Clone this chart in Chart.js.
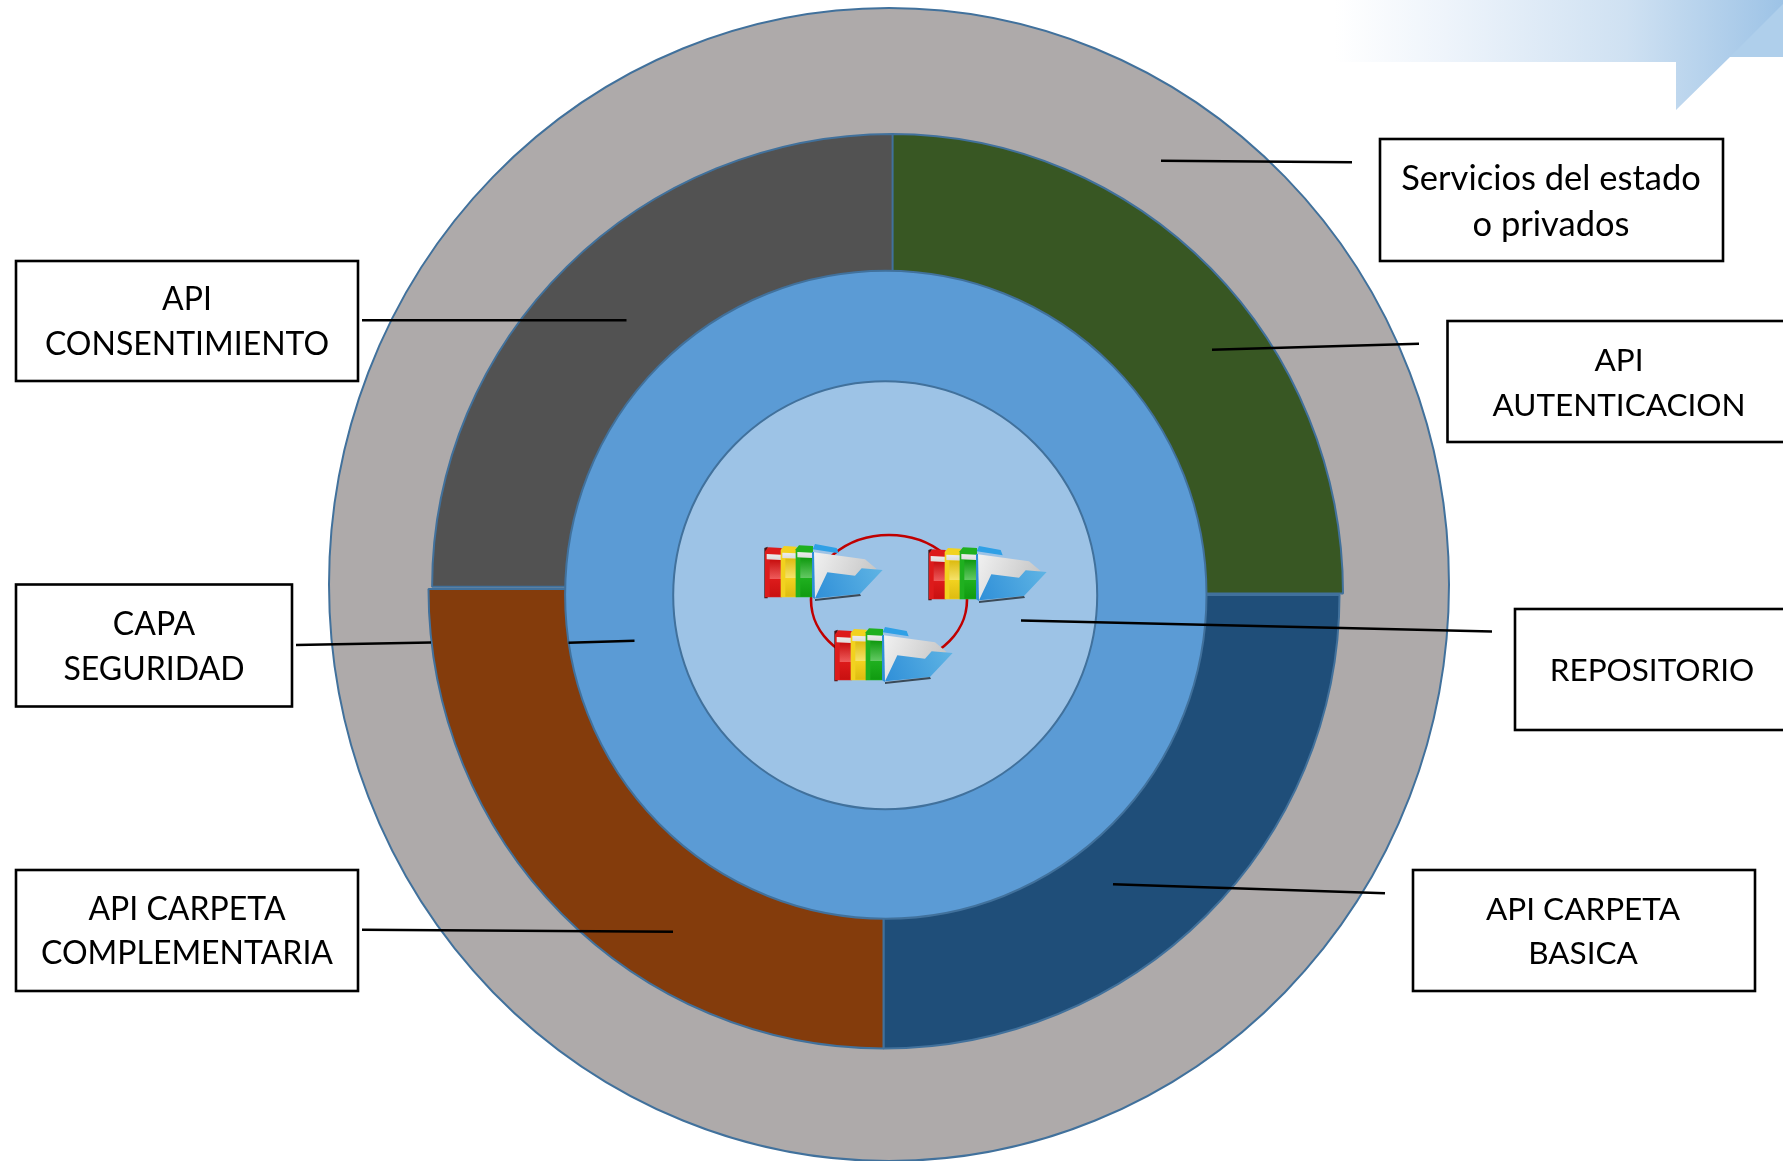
<!DOCTYPE html>
<html><head><meta charset="utf-8">
<style>html,body{margin:0;padding:0;background:#fff;overflow:hidden}canvas{display:block}</style>
<script src="https://cdn.jsdelivr.net/npm/chart.js@4/dist/chart.umd.js"></script>
</head><body>
<canvas id="c" width="1783" height="1161" style="width:1783px;height:1161px"></canvas>
<script>
// ---- data ----
const outerLabels = ["Servicios del estado o privados"];
const outerValues = [100];
const apiLabels = ["API AUTENTICACION", "API CARPETA BASICA", "API CARPETA COMPLEMENTARIA", "API CONSENTIMIENTO"];
const apiValues = [25, 25, 25, 25];
const securityLabels = ["CAPA SEGURIDAD"];
const securityValues = [100];
const repoLabels = ["REPOSITORIO"];
const repoValues = [100];
const calloutLines = [
  ["Servicios del estado", "o privados"],
  ["API", "CONSENTIMIENTO"],
  ["API", "AUTENTICACION"],
  ["CAPA", "SEGURIDAD"],
  ["REPOSITORIO"],
  ["API CARPETA", "COMPLEMENTARIA"],
  ["API CARPETA", "BASICA"]
];
// ---- style / layout ----
const edge = "#41719C";
const outerColors = ["#AEAAAA"], apiColors = ["#385723", "#1F4E79", "#843C0C", "#525252"],
      securityColors = ["#5B9BD5"], repoColors = ["#9DC3E6"];
// per-arc shape: centre, x radius, y radius, inner radius
const arcShapes = [
  [{cx:889,cy:584.5,rx:560,ry:576.5,ir:0}],
  [{cx:892,cy:593.5,rx:451,ry:459.5,ir:300},{cx:883.5,cy:595,rx:456,ry:453.5,ir:300},
   {cx:883.5,cy:589,rx:455,ry:459.5,ir:300},{cx:892.6,cy:586.7,rx:460.5,ry:452.7,ir:300}],
  [{cx:885.8,cy:594.7,rx:320.7,ry:324,ir:0}],
  [{cx:885.2,cy:595.3,rx:212,ry:214,ir:0}]
];
const boxes = [
  {x:1380,y:139,w:343,h:122,tx:1551,ty:[179,225],size:34.5},
  {x:16,y:261,w:342,h:120,tx:187,ty:[300,345],size:32},
  {x:1447.5,y:321,w:345,h:121,tx:1619,ty:[361,406],size:31.5},
  {x:16,y:584.5,w:276,h:122,tx:154,ty:[625,670],size:32},
  {x:1515,y:609,w:280,h:121,tx:1652,ty:[671],size:31.5},
  {x:16,y:870,w:342,h:121,tx:187,ty:[910,954],size:32},
  {x:1413,y:870,w:342,h:121,tx:1583,ty:[910,954],size:31.5}
];
const leaders = [
  [1161,160.7,1352,162.2],[362,320.2,626.5,320.2],[1212,349.7,1419,343.7],
  [296,645,431,642.5],[568.5,642.7,634.5,640.7],[1021,620.5,1492,631.5],
  [362,929.7,673,931.7],[1113,884.2,1385,893.2]
];
const folderSpots = [[765,544],[929,546],[835,627]];

function poly(ctx, pts, fill){
  ctx.beginPath();
  pts.forEach((p,i)=> i?ctx.lineTo(p[0],p[1]):ctx.moveTo(p[0],p[1]));
  ctx.closePath();
  if(fill){ctx.fillStyle=fill;ctx.fill();}
}
function book(ctx,x,w,h0,main,light,dark){
  // x is in icon units (1/3 px)
  poly(ctx,[[x,h0+12],[x+10,h0],[x+w,h0+2],[x+w,160],[x,160]],main);
  const b=ctx.createLinearGradient(0,h0+16,0,h0+42);
  b.addColorStop(0,"#F0F0F0");b.addColorStop(1,"#D8D8D8");
  poly(ctx,[[x+5,h0+20],[x+w-2,h0+22],[x+w-2,h0+38],[x+5,h0+36]],b);
  const g=ctx.createLinearGradient(0,h0+38,0,160);
  g.addColorStop(0,dark);g.addColorStop(.5,light);g.addColorStop(.51,main);g.addColorStop(1,dark);
  poly(ctx,[[x+14,h0+38],[x+w-2,h0+38],[x+w-2,158],[x+14,158]],g);
}
function folder(ctx,ox,oy){
  ctx.save();ctx.translate(ox,oy);ctx.scale(1/3,1/3);
  poly(ctx,[[-2,12],[8,8],[8,163],[-2,163]],"#4a1414");
  book(ctx,0,50,10,"#DD1B1B","#EE5A5A","#C81010");
  book(ctx,47,48,6,"#F2D21F","#F6E26A","#DDBB10");
  book(ctx,92,52,4,"#1FB01F","#62C862","#109A10");
  poly(ctx,[[143,16],[150,0],[215,12],[221,28]],"#2FA0E6");
  const pg=ctx.createLinearGradient(143,20,335,100);
  pg.addColorStop(0,"#F2F2F2");pg.addColorStop(1,"#C4C4C4");
  poly(ctx,[[141,24],[300,46],[335,75],[270,100],[150,163],[141,160]],pg);
  const fr=ctx.createLinearGradient(150,165,353,78);
  fr.addColorStop(0,"#2F8FD8");fr.addColorStop(1,"#5FB4E4");
  poly(ctx,[[150,163],[187,85],[270,95],[290,73],[353,78],[285,150]],fr);
  poly(ctx,[[150,165],[285,150],[288,156],[150,171]],"#3a4a58");
  poly(ctx,[[141,24],[147,24],[150,165],[141,160]],"#2F8FD8");
  ctx.restore();
}
const decorPlugin = {
  id:"decor",
  beforeDraw(chart){
    const ctx=chart.ctx;
    ctx.save();
    const g=ctx.createLinearGradient(1335,0,1783,0);
    g.addColorStop(0,"#FFFFFF");g.addColorStop(.25,"#EEF4FB");g.addColorStop(.65,"#CFE1F2");g.addColorStop(1,"#9DC3E6");
    poly(ctx,[[1335,0],[1783,0],[1783,57],[1730,57],[1676,110],[1676,62],[1335,62]],g);
    poly(ctx,[[1783,4],[1730,57],[1783,57]],"#AFCFEB");
    ctx.restore();
  },
  afterDatasetsUpdate(chart){
    chart.data.datasets.forEach((ds,i)=>{
      chart.getDatasetMeta(i).data.forEach((el,j)=>{
        const s=arcShapes[i][j];
        const whole=el.circumference>=Math.PI*2-1e-6;
        el.x=0;el.y=0;el.innerRadius=s.ir;el.outerRadius=s.rx;
        const base=Object.getPrototypeOf(el).draw;
        el.draw=function(ctx,area){
          ctx.save();ctx.translate(s.cx,s.cy);ctx.scale(1,s.ry/s.rx);
          base.call(this,ctx,area);
          if(whole){ // whole discs: outline without a radial seam
            ctx.beginPath();ctx.arc(0,0,s.rx,0,Math.PI*2);
            ctx.strokeStyle=edge;ctx.lineWidth=2;ctx.stroke();
          }
          ctx.restore();
        };
      });
    });
  },
  afterDraw(chart){
    const ctx=chart.ctx;
    ctx.save();
    // central red link
    ctx.beginPath();ctx.ellipse(889,600,78,65,0,0,Math.PI*2);
    ctx.strokeStyle="#C00000";ctx.lineWidth=2.6;ctx.stroke();
    folderSpots.forEach(p=>folder(ctx,p[0],p[1]));
    // leaders
    ctx.strokeStyle="#000";ctx.lineWidth=2.4;
    leaders.forEach(l=>{ctx.beginPath();ctx.moveTo(l[0],l[1]);ctx.lineTo(l[2],l[3]);ctx.stroke();});
    // callouts
    ctx.textAlign="center";ctx.textBaseline="middle";
    boxes.forEach((b,i)=>{
      ctx.fillStyle="#fff";ctx.fillRect(b.x,b.y,b.w,b.h);
      ctx.strokeStyle="#000";ctx.lineWidth=2.6;ctx.strokeRect(b.x,b.y,b.w,b.h);
      ctx.fillStyle="#000";ctx.font=b.size+'px Lato';
      calloutLines[i].forEach((t,k)=>ctx.fillText(t,b.tx,b.ty[k]));
    });
    ctx.restore();
  }
};
new Chart(document.getElementById("c"),{
  type:"doughnut",
  data:{labels:[...apiLabels],datasets:[
    {label:outerLabels[0],data:outerValues,backgroundColor:outerColors,borderWidth:0,order:3},
    {label:"API",data:apiValues,backgroundColor:apiColors,order:2},
    {label:securityLabels[0],data:securityValues,backgroundColor:securityColors,borderWidth:0,order:1},
    {label:repoLabels[0],data:repoValues,backgroundColor:repoColors,borderWidth:0,order:0}
  ]},
  options:{responsive:false,devicePixelRatio:1,animation:false,cutout:0,
    elements:{arc:{borderColor:edge,borderWidth:2,borderAlign:"center"}},
    layout:{padding:0},
    plugins:{legend:{display:false},tooltip:{enabled:false},title:{display:false}}},
  plugins:[decorPlugin]
});
</script>
</body></html>
